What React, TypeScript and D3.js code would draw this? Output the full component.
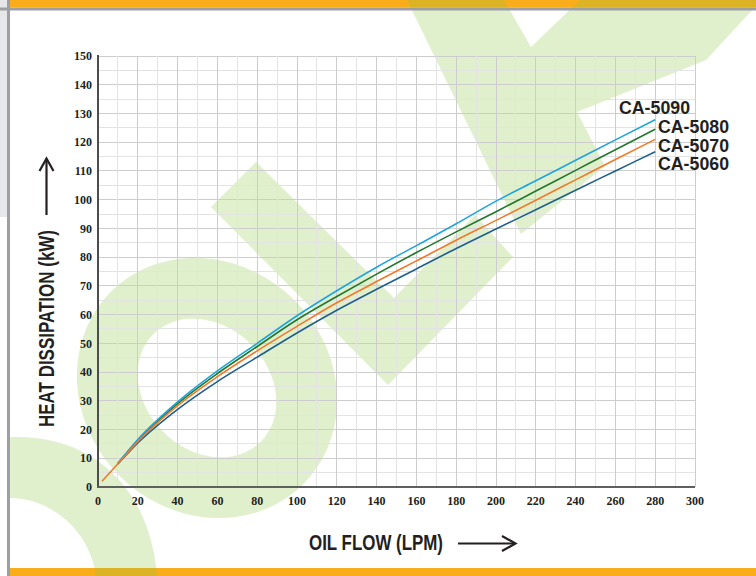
import React from 'react';
import * as d3 from 'd3';

// ---- data ----
const flowLpm = [2, 10, 20, 40, 60, 80, 100, 120, 140, 160, 180, 200, 220, 240, 260, 280];
const ca5090 = [null, 8.3, 16.5, 29.6, 40.4, 50.0, 59.6, 68.3, 76.5, 84.0, 91.6, 99.5, 106.6, 113.7, 120.8, 127.8];
const ca5080 = [null, 8.2, 16.2, 29.0, 39.5, 48.9, 58.2, 66.3, 74.1, 81.6, 88.8, 95.8, 103.0, 110.2, 117.4, 124.5];
const ca5070 = [2, 8.1, 15.8, 28.3, 38.4, 47.4, 55.9, 64.1, 71.5, 78.7, 85.9, 92.8, 99.8, 106.9, 114.0, 121.0];
const ca5060 = [null, 8.0, 15.3, 27.0, 36.7, 45.2, 53.6, 61.5, 68.8, 75.9, 83.0, 89.8, 96.5, 103.3, 110.0, 116.7];
const seriesNames = ['CA-5060', 'CA-5080', 'CA-5090', 'CA-5070'];
const seriesValues = [ca5060, ca5080, ca5090, ca5070];
const seriesColors = ['#1f5f8c', '#23782f', '#1ea5dc', '#f07a2c'];
const legendOrder = ['CA-5090', 'CA-5080', 'CA-5070', 'CA-5060'];
const xTickValues = [0, 20, 40, 60, 80, 100, 120, 140, 160, 180, 200, 220, 240, 260, 280, 300];
const yTickValues = [0, 10, 20, 30, 40, 50, 60, 70, 80, 90, 100, 110, 120, 130, 140, 150];
const xTitle = 'OIL FLOW (LPM)';
const yTitle = 'HEAT DISSIPATION (kW)';

const W = 756;
const H = 576;
const condensed = "'Liberation Sans Narrow', 'Liberation Sans', Arial, sans-serif";
const serif = "'Liberation Serif', 'Times New Roman', serif";

export default function App() {
  const x = d3.scaleLinear().domain([0, 300]).range([98, 695]);
  const y = d3.scaleLinear().domain([0, 150]).range([487, 56]);

  const line = d3
    .line<number | null>()
    .defined((d) => d !== null)
    .x((_, i) => x(flowLpm[i]))
    .y((d) => y(d as number))
    .curve(d3.curveMonotoneX);

  const vGrid = d3.range(10, 301, 10);
  const hGrid = d3.range(5, 151, 5);

  const wm = '#8dc63f';
  const wmOp = 0.26;

  const legendPos: Record<string, [number, number]> = {
    'CA-5090': [619, 114],
    'CA-5080': [658, 132.5],
    'CA-5070': [658, 151.5],
    'CA-5060': [658, 169.5],
  };

  const ell = (cx: number, cy: number, a: number, b: number, rot: number) => {
    const pts: string[] = [];
    const r = (rot * Math.PI) / 180;
    for (let k = 0; k <= 72; k++) {
      const t = (k / 72) * Math.PI * 2;
      const px = a * Math.cos(t);
      const py = b * Math.sin(t);
      pts.push(
        `${(cx + px * Math.cos(r) - py * Math.sin(r)).toFixed(1)},${(cy + px * Math.sin(r) + py * Math.cos(r)).toFixed(1)}`
      );
    }
    return 'M' + pts.join('L') + 'Z';
  };

  return (
    <svg
      width={W}
      height={H}
      viewBox={`0 0 ${W} ${H}`}
      style={{ position: 'absolute', left: 0, top: 0, background: '#fff' }}
    >
      {/* frame */}
      <rect x={0} y={0} width={W} height={H} fill="#fff" />
      <rect x={0} y={0} width={7} height={217} fill="#e6e7e8" />
      <rect x={10} y={0} width={W - 10} height={7.5} fill="#f9ad1b" />
      <rect x={10} y={568} width={W - 10} height={8} fill="#f9ad1b" />

      {/* watermark */}
      <g fill={wm} opacity={wmOp}>
        <path fillRule="evenodd" d={ell(207, 388, 136, 124, 45) + ell(207, 388, 76, 62, 45)} />
        <path d="M10,437 C95,434 150,490 157,576 L96,576 C90,530 50,498 10,498 Z" />
        <polygon points="211,207 256,162 394,298 475,215 513,257 388,385" />
        <polygon points="407,0 504,0 531,47 580,0 756,0 756,6 706,60 577,112 605,166 521,234" />
      </g>
      <rect x={0} y={7.5} width={W} height={3} fill="#9d9fa2" />
      <rect x={7} y={0} width={3} height={H} fill="#9d9fa2" />

      {/* grid */}
      <g shapeRendering="crispEdges">
        {hGrid.map((v) => (
          <line
            key={'h' + v}
            x1={x(0)}
            x2={x(300)}
            y1={y(v)}
            y2={y(v)}
            stroke={v % 10 === 0 ? '#cdcdcd' : '#e3e3e3'}
            strokeWidth={1}
          />
        ))}
        {vGrid.map((v) => (
          <line
            key={'v' + v}
            x1={x(v)}
            x2={x(v)}
            y1={y(0)}
            y2={y(150)}
            stroke={v % 20 === 0 ? '#cdcdcd' : '#e3e3e3'}
            strokeWidth={1}
          />
        ))}
        <line x1={x(0)} x2={x(0)} y1={y(150) - 1} y2={y(0) + 1} stroke="#4d4d4d" strokeWidth={2} />
        <line x1={x(0) - 1} x2={x(300)} y1={y(0)} y2={y(0)} stroke="#5f5f5f" strokeWidth={2} />
      </g>

      {/* tick labels */}
      <g fontFamily={serif} fontWeight="bold" fontSize={12} fill="#231f20">
        {yTickValues.map((v) => (
          <text key={'yt' + v} x={92} y={y(v)} dy="0.35em" textAnchor="end">
            {v}
          </text>
        ))}
        {xTickValues.map((v) => (
          <text key={'xt' + v} x={x(v)} y={505} textAnchor="middle">
            {v}
          </text>
        ))}
      </g>

      {/* series */}
      <g fill="none" strokeWidth={1.6}>
        {seriesValues.map((vals, i) => (
          <path key={seriesNames[i]} d={line(vals) || ''} stroke={seriesColors[i]} />
        ))}
      </g>

      {/* legend labels */}
      <g fontFamily={condensed} fontWeight="bold" fontSize={19} fill="#231f20">
        {legendOrder.map((n) => (
          <text key={n} x={legendPos[n][0]} y={legendPos[n][1]} textLength={71} lengthAdjust="spacingAndGlyphs">
            {n}
          </text>
        ))}
      </g>

      {/* axis titles */}
      <g fontFamily={condensed} fontWeight="bold" fill="#231f20">
        <text x={309} y={549.5} fontSize={22.5} textLength={134} lengthAdjust="spacingAndGlyphs">
          {xTitle}
        </text>
        <text
          transform="translate(54,427) rotate(-90)"
          fontSize={22.5}
          textLength={197}
          lengthAdjust="spacingAndGlyphs"
        >
          {yTitle}
        </text>
      </g>

      {/* arrows */}
      <g stroke="#231f20" strokeWidth={2.2} fill="none">
        <line x1={458} x2={515} y1={543.5} y2={543.5} />
        <polyline points="502,536 515.5,543.5 502,551" />
        <line x1={46.5} x2={46.5} y1={215} y2={159} />
        <polyline points="39.5,171 46.5,158.5 53.5,171" />
      </g>
    </svg>
  );
}
